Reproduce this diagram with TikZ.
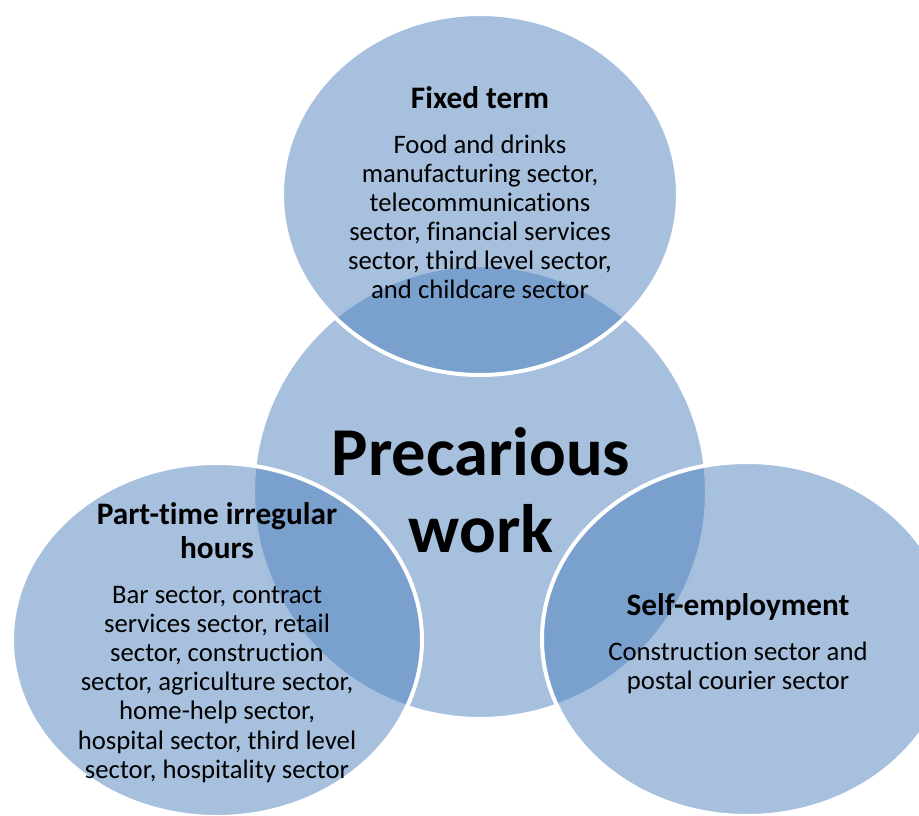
\documentclass[tikz,border=0pt]{standalone}
\usepackage{fontspec}
\setmainfont{Carlito}[Ligatures={NoCommon}]
\definecolor{vennblue}{HTML}{4F81BD}
% centred block of lines whose baseline is that of its first line
\newcommand{\vennlines}[1]{\begin{tabular}[t]{@{}c@{}}#1\end{tabular}}
\begin{document}
\begin{tikzpicture}[x=1pt,y=-1pt,
  venn/.style={fill=vennblue,fill opacity=0.5,draw=white,draw opacity=1,line width=4pt},
  heading/.style={anchor=base,inner sep=0pt,text=black,font=\bfseries\fontsize{31.3}{34}\selectfont},
  sectors/.style={anchor=base,inner sep=0pt,text=black,font=\fontsize{26.7}{29.1}\selectfont},
  hub/.style={anchor=base,inner sep=0pt,text=black,font=\bfseries\fontsize{68.5}{77}\selectfont}]
\useasboundingbox (0,0) rectangle (919,816);

% the four overlapping discs
\path[venn] (480,492) circle[radius=227];
\path[venn] (480,194.5) ellipse[x radius=198,y radius=180.5];
\path[venn] (217,640) ellipse[x radius=205,y radius=177];
\path[venn] (747,639) ellipse[x radius=205,y radius=177];

% centre label
\node[hub] (core) at (481,475) {\vennlines{Precarious\\work}};

% fixed term
\node[heading] (fixedT) at (480,108) {Fixed term};
\node[sectors] (fixedS) at (480,153) {\vennlines{Food and drinks\\manufacturing sector,\\telecommunications\\sector, financial services\\sector, third level sector,\\and childcare sector}};

% part-time irregular hours
\node[heading] (partT) at (217,524) {\vennlines{Part-time irregular\\hours}};
\node[sectors] (partS) at (217,603.5) {\vennlines{Bar sector, contract\\services sector, retail\\sector, construction\\sector, agriculture sector,\\home-help sector,\\hospital sector, third level\\sector, hospitality sector}};

% self-employment
\node[heading] (selfT) at (738,615) {Self-employment};
\node[sectors] (selfS) at (738,660) {\vennlines{Construction sector and\\postal courier sector}};
\end{tikzpicture}
\end{document}
